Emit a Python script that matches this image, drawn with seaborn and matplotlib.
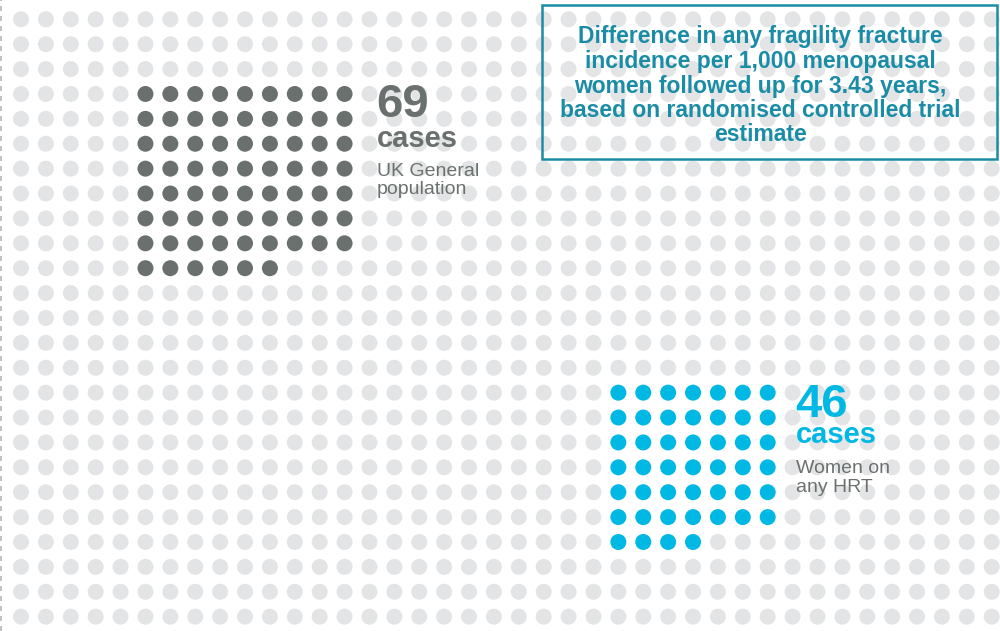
import numpy as np
import pandas as pd
import matplotlib
matplotlib.use("Agg")
import matplotlib.pyplot as plt
import seaborn as sns
from matplotlib.patches import Rectangle

# ---- data ----
groups = ["UK General population", "Women on any HRT"]
cases = [69, 46]
label_lines = [["UK General", "population"], ["Women on", "any HRT"]]
title_lines = [
    "Difference in any fragility fracture",
    "incidence per 1,000 menopausal",
    "women followed up for 3.43 years,",
    "based on randomised controlled trial",
    "estimate",
]

# ---- layout (grid units) ----
n_cols, n_rows = 40, 25
block_origin = [(5, 3), (24, 15)]      # (col, row) of first dot of each block
block_width = [9, 7]
colors = {"background": "#e3e4e6", groups[0]: "#6a706e", groups[1]: "#00b8e4"}
num_colors = ["#6a706e", "#00b8e4"]
grey_txt = "#6b716f"
teal = "#1a8ca6"

# build dot table
occupied = {}
for g, n, (c0, r0), w in zip(groups, cases, block_origin, block_width):
    for i in range(n):
        occupied[(c0 + i % w, r0 + i // w)] = g
rows = []
for r in range(n_rows):
    for c in range(n_cols):
        rows.append({"col": c, "row": r, "group": occupied.get((c, r), "background")})
df = pd.DataFrame(rows)
df["order"] = df["group"].map({"background": 0, groups[0]: 1, groups[1]: 2})
df = df.sort_values("order", kind="stable")

W, H = 1000, 631
fig = plt.figure(figsize=(W / 100, H / 100), dpi=100)
ax = fig.add_axes([0, 0, 1, 1])
sp = 24.89
x0p, y0p = 21.0, 19.3
sns.scatterplot(data=df, x="col", y="row", hue="group", palette=colors,
                hue_order=["background", groups[0], groups[1]],
                s=(16 * 0.72) ** 2, linewidth=0, legend=False, ax=ax)
ax.set_xlim(-x0p / sp, (W - x0p) / sp)
ax.set_ylim((H - y0p) / sp, -y0p / sp)
ax.axis("off")

def px(x, y):
    return (x / W, 1 - y / H)

font = "Liberation Sans"
# block labels
num_pos = [(376, 117), (795, 417)]
cases_pos = [(377, 147), (796, 443)]
lab_pos = [[(377, 176), (377, 194)], [(796, 473), (796, 492)]]
for k in range(2):
    fig.text(*px(*num_pos[k]), str(cases[k]), fontsize=34, fontweight="bold",
             color=num_colors[k], family=font, va="baseline", ha="left")
    fig.text(*px(*cases_pos[k]), "cases", fontsize=21, fontweight="bold",
             color=num_colors[k], family=font, va="baseline", ha="left")
    for line, p in zip(label_lines[k], lab_pos[k]):
        fig.text(*px(*p), line, fontsize=14, color=grey_txt, family=font,
                 va="baseline", ha="left")

# title box
fig.patches.append(Rectangle(px(542, 159), (997 - 542) / W, (159 - 5.5) / H,
                             transform=fig.transFigure, fill=False,
                             edgecolor=teal, linewidth=1.8))
base_y = [43.3, 68.0, 92.5, 117.0, 141.0]
for line, y in zip(title_lines, base_y):
    fig.text(*px(760.5, y), line, fontsize=16.5, fontweight="bold", color=teal,
             family=font, va="baseline", ha="center")

# dashed left border
fig.add_artist(plt.Line2D([0.6 / W, 0.6 / W], [0, 1], transform=fig.transFigure,
                          color="#b5b7b9", linewidth=1.2, linestyle=(0, (3, 3))))

fig.savefig("out.png", dpi=100)
